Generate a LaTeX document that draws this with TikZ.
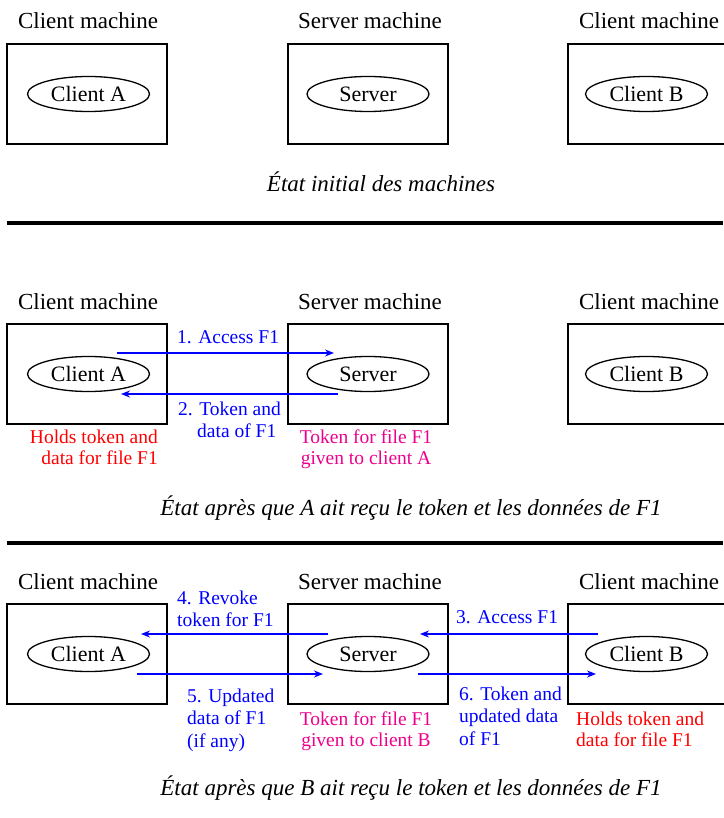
\documentclass[tikz,border=0pt]{standalone}
\usepackage{fontspec}
\setmainfont{Liberation Serif}
\usetikzlibrary{arrows.meta,shapes.geometric}

\begin{document}
\begin{tikzpicture}[x=1pt,y=-1pt,
  machine/.style={draw, line width=2pt, minimum width=160pt, minimum height=100pt, inner sep=0pt},
  proc/.style={draw, ellipse, line width=1.3pt, minimum width=122pt, minimum height=35pt, inner sep=0pt,
    font=\fontsize{22}{26}\selectfont},
  head/.style={anchor=base, inner sep=0pt, font=\fontsize{23}{27}\selectfont},
  msg/.style={anchor=base west, inner sep=0pt, text=blue, align=left, font=\fontsize{19.5}{22.5}\selectfont},
  holds/.style={inner sep=0pt, text=red, font=\fontsize{19.5}{21}\selectfont},
  given/.style={anchor=base, inner sep=0pt, text=magenta, align=center, font=\fontsize{19.5}{21}\selectfont},
  caption/.style={anchor=base, inner sep=0pt, font=\fontsize{23}{27}\selectfont\itshape},
  flow/.style={draw=blue, line width=1.6pt, -{Stealth[length=9pt,width=7pt]}},
  sep/.style={line width=4pt}]
\useasboundingbox (0,0) rectangle (723,818);

% multi-line labels are placed by the baseline of their last line

% ---------- initial state ----------
\node[head] (h1a) at (88,29) {Client machine};
\node[head] (h1s) at (370,29) {Server machine};
\node[head] (h1b) at (649,29) {Client machine};
\node[machine] (m1a) at (87,94) {};
\node[machine] (m1s) at (368,94) {};
\node[machine] (m1b) at (648,94) {};
\node[proc] (p1a) at (88.5,94) {Client A};
\node[proc] (p1s) at (368,94) {Server};
\node[proc] (p1b) at (646.5,94) {Client B};
\node[caption] (c1) at (381,192) {État initial des machines};
\coordinate (s1l) at (7,223);
\coordinate (s1r) at (723,223);
\draw[sep] (s1l) -- (s1r);

% ---------- A receives the token ----------
\node[head] (h2a) at (88,309) {Client machine};
\node[head] (h2s) at (370,309) {Server machine};
\node[head] (h2b) at (649,309) {Client machine};
\node[machine] (m2a) at (87,374) {};
\node[machine] (m2s) at (368,374) {};
\node[machine] (m2b) at (648,374) {};
\node[proc] (p2a) at (88.5,374) {Client A};
\node[proc] (p2s) at (368,374) {Server};
\node[proc] (p2b) at (646.5,374) {Client B};
\coordinate (f1s) at (117,353);
\coordinate (f1e) at (334,353);
\coordinate (f2s) at (338,394);
\coordinate (f2e) at (121,394);
\draw[flow] (f1s) -- (f1e);
\draw[flow] (f2s) -- (f2e);
\node[msg] (l1) at (177,343) {1. Access F1};
\node[msg] (l2) at (178,437.5) {2. Token and\\\hspace*{19pt}data of F1};
\node[holds, anchor=base east, align=right] (r2) at (158,464) {Holds token and\\data for file F1};
\node[given] (g2) at (366,464) {Token for file F1\\given to client A};
\node[caption] (c2) at (411,515) {État après que A ait reçu le token et les données de F1};
\coordinate (s2l) at (7,543);
\coordinate (s2r) at (723,543);
\draw[sep] (s2l) -- (s2r);

% ---------- B receives the token ----------
\node[head] (h3a) at (88,589) {Client machine};
\node[head] (h3s) at (370,589) {Server machine};
\node[head] (h3b) at (649,589) {Client machine};
\node[machine] (m3a) at (87,654) {};
\node[machine] (m3s) at (368,654) {};
\node[machine] (m3b) at (648,654) {};
\node[proc] (p3a) at (88.5,654) {Client A};
\node[proc] (p3s) at (368,654) {Server};
\node[proc] (p3b) at (646.5,654) {Client B};
\coordinate (f3s) at (598,634);
\coordinate (f3e) at (420,634);
\coordinate (f4s) at (328,634);
\coordinate (f4e) at (141,634);
\coordinate (f5s) at (137,674);
\coordinate (f5e) at (323,674);
\coordinate (f6s) at (418,674);
\coordinate (f6e) at (596,674);
\draw[flow] (f3s) -- (f3e);
\draw[flow] (f4s) -- (f4e);
\draw[flow] (f5s) -- (f5e);
\draw[flow] (f6s) -- (f6e);
\node[msg] (l4) at (177,626.5) {4. Revoke\\token for F1};
\node[msg] (l3) at (456,623) {3. Access F1};
\node[msg] (l5) at (187,747) {5. Updated\\data of F1\\(if any)};
\node[msg] (l6) at (459,745) {6. Token and\\updated data\\of F1};
\node[given] (g3) at (366,746) {Token for file F1\\given to client B};
\node[holds, anchor=base west, align=left] (r3) at (576,746) {Holds token and\\data for file F1};
\node[caption] (c3) at (411,795) {État après que B ait reçu le token et les données de F1};
\end{tikzpicture}
\end{document}
